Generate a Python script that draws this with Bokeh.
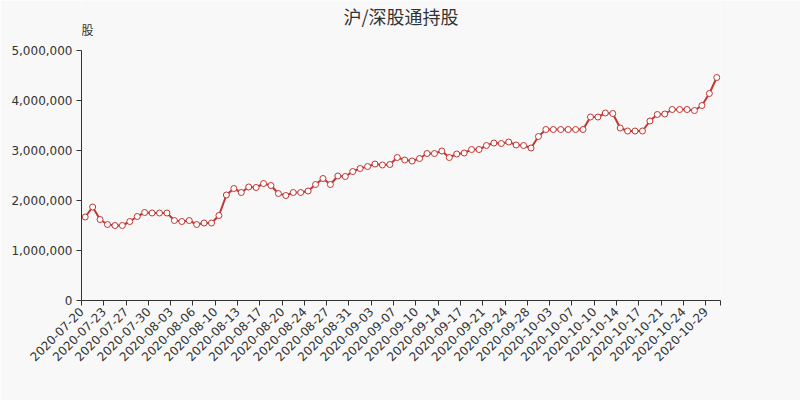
import math
import numpy as np
from bokeh.plotting import figure
from bokeh.models import Range1d, FixedTicker, NumeralTickFormatter, Label, ColumnDataSource
from bokeh.embed import file_html
from bokeh.resources import INLINE

title_text = "沪/深股通持股"
y_name = "股"

dates = [
    "2020-07-20", "2020-07-21", "2020-07-22", "2020-07-23", "2020-07-24", "2020-07-25",
    "2020-07-27", "2020-07-28", "2020-07-29", "2020-07-30", "2020-07-31", "2020-08-01",
    "2020-08-03", "2020-08-04", "2020-08-05", "2020-08-06", "2020-08-07", "2020-08-08",
    "2020-08-10", "2020-08-11", "2020-08-12", "2020-08-13", "2020-08-14", "2020-08-15",
    "2020-08-17", "2020-08-18", "2020-08-19", "2020-08-20", "2020-08-21", "2020-08-22",
    "2020-08-24", "2020-08-25", "2020-08-26", "2020-08-27", "2020-08-28", "2020-08-29",
    "2020-08-31", "2020-09-01", "2020-09-02", "2020-09-03", "2020-09-04", "2020-09-05",
    "2020-09-07", "2020-09-08", "2020-09-09", "2020-09-10", "2020-09-11", "2020-09-12",
    "2020-09-14", "2020-09-15", "2020-09-16", "2020-09-17", "2020-09-18", "2020-09-19",
    "2020-09-21", "2020-09-22", "2020-09-23", "2020-09-24", "2020-09-25", "2020-09-26",
    "2020-09-28", "2020-09-29", "2020-09-30", "2020-10-03",
    "2020-10-05", "2020-10-06", "2020-10-07", "2020-10-08", "2020-10-09", "2020-10-10",
    "2020-10-12", "2020-10-13", "2020-10-14", "2020-10-15", "2020-10-16", "2020-10-17",
    "2020-10-19", "2020-10-20", "2020-10-21", "2020-10-22", "2020-10-23", "2020-10-24",
    "2020-10-27", "2020-10-28", "2020-10-29", "2020-10-30",
]

holdings = [
    1670000, 1870000, 1620000, 1520000, 1500000, 1500000,
    1580000, 1680000, 1760000, 1750000, 1750000, 1750000,
    1600000, 1580000, 1600000, 1520000, 1550000, 1550000,
    1700000, 2110000, 2240000, 2160000, 2270000, 2260000,
    2340000, 2300000, 2140000, 2100000, 2160000, 2160000,
    2190000, 2320000, 2440000, 2320000, 2490000, 2480000,
    2580000, 2640000, 2680000, 2730000, 2710000, 2720000,
    2860000, 2810000, 2790000, 2840000, 2940000, 2940000,
    2990000, 2860000, 2930000, 2950000, 3020000, 3020000,
    3100000, 3150000, 3140000, 3170000, 3110000, 3100000,
    3050000, 3280000, 3420000, 3420000,
    3420000, 3420000, 3420000, 3420000, 3670000, 3670000,
    3750000, 3740000, 3450000, 3390000, 3390000, 3390000,
    3590000, 3720000, 3730000, 3820000, 3820000, 3820000,
    3800000, 3900000, 4140000, 4460000,
]

y_ticks = [0, 1000000, 2000000, 3000000, 4000000, 5000000]
y_max = 5000000

FONT = "DejaVu Sans"
CJK_FONT = "Noto Sans CJK SC"
LINE_COLOR = "#c23531"
TEXT_COLOR = "#333333"
BG = "#f8f8f8"

n = len(dates)
xpos = np.arange(n) + 0.5  # band centres (boundary gap)

src = ColumnDataSource(dict(x=xpos, y=holdings, d=dates))

# the frame reaches the top of the canvas so the title texts sit inside it;
# the y axis line itself is bounded to 0..5,000,000
p = figure(width=800, height=400, output_backend="svg", toolbar_location=None,
           x_range=Range1d(0, n), y_range=Range1d(0, y_max * 1.2),
           min_border_left=81, min_border_right=80, min_border_top=0, min_border_bottom=100)
p.background_fill_color = BG
p.border_fill_color = BG
p.outline_line_color = None
p.xgrid.visible = False
p.ygrid.visible = False

p.line("x", "y", source=src, line_color=LINE_COLOR, line_width=2)
p.scatter("x", "y", source=src, size=6, marker="circle", fill_color="white",
          line_color=LINE_COLOR, line_width=1)

# x axis: ticks at every third band boundary, plus axis end
tick_pos = list(range(0, n, 3)) + [n]
p.xaxis.ticker = FixedTicker(ticks=tick_pos)
overrides = {}
for t in tick_pos:
    overrides[t] = dates[t] if t < n else ""
p.xaxis.major_label_overrides = overrides
p.xaxis.major_label_orientation = math.pi / 4
p.xaxis.minor_tick_line_color = None
p.xaxis.major_tick_in = 0
p.xaxis.major_tick_out = 5
p.xaxis.major_label_standoff = 4

p.yaxis.ticker = FixedTicker(ticks=y_ticks)
p.yaxis.bounds = (0, y_max)
p.yaxis.formatter = NumeralTickFormatter(format="0,0")
p.yaxis.minor_tick_line_color = None
p.yaxis.major_tick_in = 0
p.yaxis.major_tick_out = 5
p.yaxis.major_label_standoff = 4

for ax in (p.xaxis, p.yaxis):
    ax.axis_line_color = TEXT_COLOR
    ax.major_tick_line_color = TEXT_COLOR
    ax.major_label_text_color = TEXT_COLOR
    ax.major_label_text_font = FONT
    ax.major_label_text_font_size = "12px"

# title and y-axis name
p.add_layout(Label(x=n / 2, y=5700000, text=title_text, text_align="center",
                   text_baseline="middle", text_font=CJK_FONT,
                   text_font_size="18px", text_color=TEXT_COLOR))
p.add_layout(Label(x=0, y=5430000, text=y_name, text_align="left",
                   text_baseline="middle", text_font=CJK_FONT,
                   text_font_size="12px", text_color=TEXT_COLOR))

open("out.html", "w").write(file_html(p, INLINE))
